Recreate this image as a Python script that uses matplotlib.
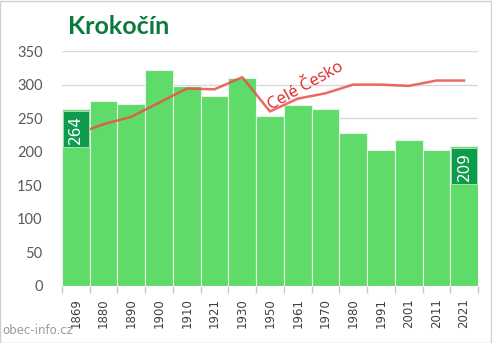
import matplotlib
matplotlib.use("Agg")
import matplotlib.pyplot as plt
import numpy as np
from matplotlib.patches import Rectangle

years = ["1869", "1880", "1890", "1900", "1910", "1921", "1930", "1950",
         "1961", "1970", "1980", "1991", "2001", "2011", "2021"]
population = [264, 275, 271, 321, 298, 283, 310, 253, 270, 264, 228, 202, 217, 202, 209]
czechia_scaled = [226, 241, 252, 273, 294, 293, 311, 260, 279, 287, 300, 300, 298, 306, 306]
yticks = [0, 50, 100, 150, 200, 250, 300, 350]

fig = plt.figure(figsize=(4.92, 3.43), dpi=100)
ax = fig.add_axes([0.126, 0.1662, 0.8455, 0.6851])

x = np.arange(len(years))
ax.set_axisbelow(True)
ax.grid(axis="y", color="#d9d9d9", lw=1)
ax.bar(x, population, width=1.0, color="#5fdb6a", edgecolor="#e8f5e8", linewidth=0.8, zorder=2)
ax.plot(x, czechia_scaled, color="#e8504a", lw=1.8, alpha=0.85, zorder=3)

ax.set_xlim(-0.5, len(years) - 0.5)
ax.set_ylim(0, 350)
ax.set_yticks(yticks)
ax.set_yticklabels([str(v) for v in yticks], fontsize=10.5, color="#595959", family="Lato")
ax.tick_params(axis="y", length=0, pad=14)
ax.set_xticks(x)
ax.set_xticklabels(years, rotation=90, fontsize=8.5, color="#404040", family="DejaVu Sans")
ax.set_xticks(np.arange(len(years) + 1) - 0.5, minor=True)
ax.tick_params(axis="x", which="major", length=0, pad=9)
ax.tick_params(axis="x", which="minor", length=5, color="#c8c8c8", width=1)
for s in ax.spines.values():
    s.set_visible(False)

# value labels for first and last bars
def vlabel(i, val):
    top = val - 4
    ax.add_patch(Rectangle((i - 0.47, top - 53), 0.94, 53, facecolor="#0c9c4c",
                           edgecolor="#b8e6c0", lw=0.6, zorder=4))
    ax.text(i, top - 26.5, str(val), rotation=90, ha="center", va="center",
            color="white", fontsize=11, family="DejaVu Sans", zorder=5)

vlabel(0, population[0])
vlabel(len(years) - 1, population[-1])

ax.text(8.3, 298, "Celé Česko", rotation=29, ha="center", va="center",
        color="#e02424", fontsize=12, family="Open Sans", zorder=5)

fig.text(0.138, 0.922, "Krokočín", fontsize=18, fontweight="bold",
         color="#0b7a3c", family="Lato", ha="left", va="center")
fig.text(0.004, 0.018, "obec-info.cz", fontsize=8.5, color="#9a9a9a",
         family="DejaVu Sans", ha="left", va="bottom")

fig.add_artist(Rectangle((0.001, 0.001), 0.997, 0.996, transform=fig.transFigure,
                         fill=False, edgecolor="#d0d0d0", lw=1))

fig.savefig("out.png", dpi=100)
